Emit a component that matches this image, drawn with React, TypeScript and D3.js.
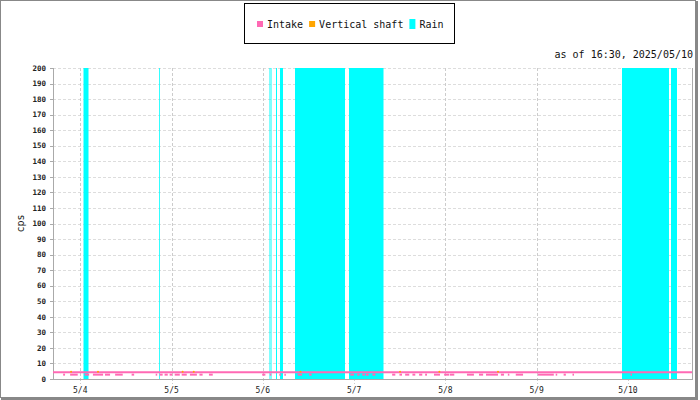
import { useEffect, useRef } from "react";
import * as d3 from "d3";

const parse = d3.timeParse("%Y/%m/%d %H:%M");
const t = (s: string) => parse("2025/" + s) as Date;

const timeRange = ["5/3 16:50", "5/10 16:50"];
const asOfLabel = "as of 16:30, 2025/05/10";
const yAxisLabel = "cps";
const yTicks = [0, 10, 20, 30, 40, 50, 60, 70, 80, 90, 100, 110, 120, 130, 140, 150, 160, 170, 180, 190, 200];
const xTicks = ["5/4 00:00", "5/5 00:00", "5/6 00:00", "5/7 00:00", "5/8 00:00", "5/9 00:00", "5/10 00:00"];
const xTickLabels = ["5/4", "5/5", "5/6", "5/7", "5/8", "5/9", "5/10"];

const seriesNames = ["Intake", "Vertical shaft", "Rain"];
const seriesColors = ["#ff69b4", "#ffa500", "#00ffff"];

// intake sits near 4.3 cps with short dips to ~2.8
const intakeLevel = 4.3;
const intakeDips: [string, string, number][] = [
  ["5/3 19:30", "5/3 20:00", 2.8], ["5/3 21:20", "5/3 23:20", 2.8], ["5/4 01:10", "5/4 02:20", 2.8],
  ["5/4 03:20", "5/4 06:00", 2.8], ["5/4 06:30", "5/4 07:50", 2.8], ["5/4 09:10", "5/4 11:10", 2.8],
  ["5/4 13:30", "5/4 14:10", 2.8], ["5/4 19:50", "5/4 20:10", 2.8], ["5/4 20:50", "5/4 21:40", 2.8],
  ["5/4 22:10", "5/4 23:00", 2.8], ["5/4 23:30", "5/5 00:10", 2.8], ["5/5 00:50", "5/5 02:10", 2.8],
  ["5/5 02:40", "5/5 04:00", 2.8], ["5/5 04:50", "5/5 06:40", 2.8], ["5/5 07:20", "5/5 08:10", 2.8],
  ["5/5 09:50", "5/5 10:50", 2.8], ["5/5 23:50", "5/6 00:40", 2.8], ["5/6 01:50", "5/6 02:00", 2.8],
  ["5/6 04:20", "5/6 04:40", 2.8], ["5/6 05:40", "5/6 05:55", 2.8], ["5/6 09:10", "5/6 10:20", 2.8],
  ["5/6 12:10", "5/6 12:50", 2.8], ["5/6 23:00", "5/7 00:00", 2.8], ["5/7 00:50", "5/7 01:25", 2.8],
  ["5/7 02:10", "5/7 02:50", 2.8], ["5/7 03:05", "5/7 03:50", 2.8], ["5/7 04:50", "5/7 05:35", 2.8],
  ["5/7 10:00", "5/7 10:50", 2.8], ["5/7 11:55", "5/7 12:35", 2.8], ["5/7 13:25", "5/7 14:30", 2.8],
  ["5/7 15:20", "5/7 16:05", 2.8], ["5/7 17:05", "5/7 17:55", 2.8], ["5/7 18:40", "5/7 19:10", 2.8],
  ["5/7 21:00", "5/7 22:35", 2.8], ["5/7 23:40", "5/8 01:00", 2.8], ["5/8 01:10", "5/8 02:20", 2.8],
  ["5/8 05:40", "5/8 07:30", 2.8], ["5/8 08:50", "5/8 09:55", 2.8], ["5/8 10:40", "5/8 13:50", 2.8],
  ["5/8 14:35", "5/8 15:25", 2.8], ["5/8 16:25", "5/8 16:40", 2.8], ["5/8 18:30", "5/8 20:25", 2.8],
  ["5/9 00:20", "5/9 04:30", 2.8], ["5/9 05:00", "5/9 05:20", 2.8], ["5/9 07:05", "5/9 07:40", 2.8],
  ["5/9 09:25", "5/9 09:40", 2.8], ["5/10 00:40", "5/10 00:50", 2.8],
];

const shaftPoints: [string, number][] = [
  ["5/3 21:35", 4.7], ["5/4 04:40", 4.7], ["5/5 02:55", 4.7], ["5/5 05:50", 4.7],
  ["5/6 09:55", 4.7], ["5/7 12:05", 4.7], ["5/7 22:25", 4.7], ["5/8 13:50", 4.7],
];

// rain: [start, end, intensity] — heavy periods run off the top of the chart
const rainPeriods: [string, string, number][] = [
  ["5/4 00:40", "5/4 01:00", 0.5], ["5/4 01:00", "5/4 02:00", 1], ["5/4 02:00", "5/4 02:20", 0.5],
  ["5/4 20:40", "5/4 20:50", 0.8],
  ["5/6 01:30", "5/6 02:20", 0.5], ["5/6 03:20", "5/6 03:35", 1], ["5/6 04:25", "5/6 05:15", 1],
  ["5/6 08:30", "5/6 21:40", 1], ["5/6 22:40", "5/7 07:35", 1], ["5/7 07:35", "5/7 07:55", 0.5],
  ["5/9 22:25", "5/10 10:40", 1], ["5/10 11:15", "5/10 12:55", 1],
];

const FONT = "'DejaVu Sans Mono', monospace";

export default function App() {
  const svgRef = useRef<SVGSVGElement>(null);

  useEffect(() => {
    if (!svgRef.current) return;
    const svg = d3.select(svgRef.current);
    svg.selectAll("*").remove();

    const left = 53, right = 692, top = 68, bottom = 379;

    const x = d3.scaleTime().domain([t(timeRange[0]), t(timeRange[1])]).range([left, right]);
    const y = d3.scaleLinear().domain([0, 200]).range([bottom, top]);
    const px = (s: string) => Math.round(x(t(s)));

    // outer frame
    svg.append("rect").attr("x", 0.5).attr("y", 0.5).attr("width", 695).attr("height", 397)
      .attr("fill", "#fff").attr("stroke", "#888");
    svg.append("rect").attr("x", 695).attr("y", 1).attr("width", 3).attr("height", 399).attr("fill", "#888");
    svg.append("rect").attr("x", 1).attr("y", 397.5).attr("width", 697).attr("height", 2.5).attr("fill", "#888");

    svg.append("defs").append("clipPath").attr("id", "plot")
      .append("rect").attr("x", left).attr("y", top).attr("width", right - left).attr("height", bottom - top);

    // grid
    svg.append("g").selectAll("line").data(yTicks.filter((d) => d > 0)).join("line")
      .attr("x1", left).attr("x2", right)
      .attr("y1", (d) => Math.round(y(d)) + 0.5).attr("y2", (d) => Math.round(y(d)) + 0.5)
      .attr("stroke", "#ddd").attr("stroke-dasharray", "3,2");
    svg.append("g").selectAll("line").data(xTicks).join("line")
      .attr("x1", (d) => px(d) + 0.5).attr("x2", (d) => px(d) + 0.5)
      .attr("y1", top).attr("y2", bottom + 5)
      .attr("stroke", "#ccc").attr("stroke-dasharray", "3,2");

    // rain
    svg.append("g").attr("clip-path", "url(#plot)").attr("shape-rendering", "crispEdges")
      .selectAll("rect").data(rainPeriods).join("rect")
      .attr("x", (d) => px(d[0]))
      .attr("width", (d) => Math.max(1, px(d[1]) - px(d[0])))
      .attr("y", top).attr("height", bottom - top)
      .attr("fill", seriesColors[2]).attr("fill-opacity", (d) => d[2]);

    // axes frame
    svg.append("line").attr("x1", left + 0.5).attr("x2", left + 0.5).attr("y1", top).attr("y2", bottom)
      .attr("stroke", "#aaa");
    svg.append("line").attr("x1", right + 0.5).attr("x2", right + 0.5).attr("y1", top).attr("y2", bottom)
      .attr("stroke", "#aaa");
    svg.append("line").attr("x1", left).attr("x2", right + 1).attr("y1", bottom + 0.5).attr("y2", bottom + 0.5)
      .attr("stroke", "#aaa");

    // y ticks
    const yg = svg.append("g");
    yg.selectAll("line").data(yTicks).join("line")
      .attr("x1", left - 3).attr("x2", left)
      .attr("y1", (d) => Math.round(y(d)) + 0.5).attr("y2", (d) => Math.round(y(d)) + 0.5)
      .attr("stroke", "#aaa");
    yg.selectAll("text").data(yTicks).join("text")
      .attr("x", 46).attr("y", (d) => y(d) + 2.7)
      .attr("text-anchor", "end").attr("font-family", FONT).attr("font-size", "7.5px")
      .attr("font-weight", "bold").attr("fill", "#222").text((d) => String(d));

    // x tick labels
    svg.append("g").selectAll("text").data(xTicks).join("text")
      .attr("x", (d) => x(t(d))).attr("y", 393)
      .attr("text-anchor", "middle").attr("font-family", FONT).attr("font-size", "8px")
      .attr("fill", "#222").text((_, i) => xTickLabels[i]);

    svg.append("text").attr("transform", `translate(24,${(top + bottom) / 2}) rotate(-90)`)
      .attr("text-anchor", "middle").attr("font-family", FONT).attr("font-size", "10px")
      .attr("fill", "#222").text(yAxisLabel);

    // intake
    const plot = svg.append("g").attr("clip-path", "url(#plot)");
    plot.selectAll("line.dip").data(intakeDips).join("line").attr("class", "dip")
      .attr("x1", (d) => x(t(d[0]))).attr("x2", (d) => Math.max(x(t(d[0])) + 1.5, x(t(d[1]))))
      .attr("y1", (d) => y(d[2])).attr("y2", (d) => y(d[2]))
      .attr("stroke", seriesColors[0]).attr("stroke-width", 2);
    plot.append("line")
      .attr("x1", left).attr("x2", right).attr("y1", y(intakeLevel)).attr("y2", y(intakeLevel))
      .attr("stroke", seriesColors[0]).attr("stroke-width", 2);

    // vertical shaft
    plot.selectAll("circle").data(shaftPoints).join("circle")
      .attr("cx", (d) => x(t(d[0]))).attr("cy", (d) => y(d[1])).attr("r", 1)
      .attr("fill", seriesColors[1]);

    // as-of label
    svg.append("text").attr("x", right + 1).attr("y", 58).attr("text-anchor", "end")
      .attr("font-family", FONT).attr("font-size", "10px").attr("fill", "#111").text(asOfLabel);

    // legend
    const lg = svg.append("g");
    lg.append("rect").attr("x", 244.5).attr("y", 3.5).attr("width", 210).attr("height", 40)
      .attr("fill", "#fff").attr("stroke", "#000");
    let lx = 257;
    seriesNames.forEach((name, i) => {
      const tall = i === 2;
      lg.append("rect").attr("x", lx).attr("y", tall ? 19 : 21).attr("width", 6).attr("height", tall ? 10 : 6)
        .attr("fill", seriesColors[i]);
      lg.append("text").attr("x", lx + 10).attr("y", 28).attr("font-family", FONT).attr("font-size", "10px")
        .attr("fill", "#111").text(name);
      lx += 10 + name.length * 6.02 + 6;
    });
  }, []);

  return (
    <svg ref={svgRef} width={700} height={400}
      style={{ position: "absolute", left: 0, top: 0, display: "block" }} />
  );
}
